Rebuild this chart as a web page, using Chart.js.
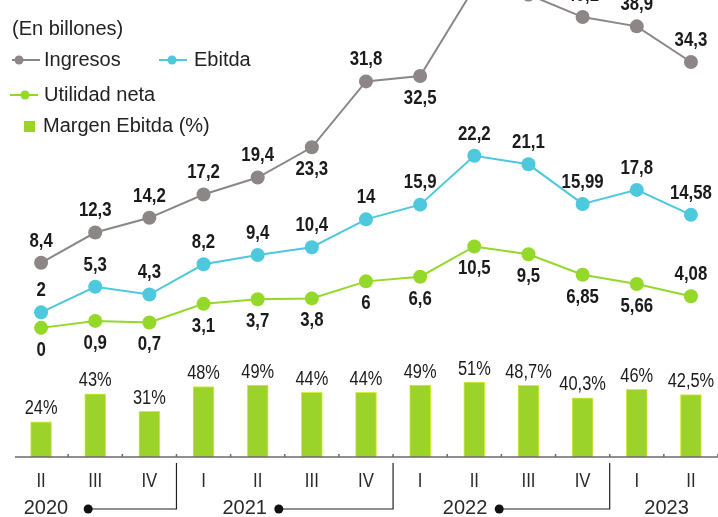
<html>
  <head>
    <style>
      body { margin: 0; background: #ffffff; }
    </style>
  </head>
  <body>
    <canvas id="myChart" width="718" height="517"></canvas>

    <script src="https://cdn.jsdelivr.net/npm/chart.js"></script>

    <script>
      "use strict";

      // quarters from II-2020 to II-2023
      const quarters = ['II', 'III', 'IV', 'I', 'II', 'III', 'IV', 'I', 'II', 'III', 'IV', 'I', 'II'];
      const years = ['2020', '2021', '2022', '2023'];

      // billones de pesos
      const ingresos = [8.4, 12.3, 14.2, 17.2, 19.4, 23.3, 31.8, 32.5, 43.9, 43.0, 40.1, 38.9, 34.3];
      const ebitda = [2, 5.3, 4.3, 8.2, 9.4, 10.4, 14, 15.9, 22.2, 21.1, 15.99, 17.8, 14.58];
      const utilidad = [0, 0.9, 0.7, 3.1, 3.7, 3.8, 6, 6.6, 10.5, 9.5, 6.85, 5.66, 4.08];
      const margen = [24, 43, 31, 48, 49, 44, 44, 49, 51, 48.7, 40.3, 46, 42.5];

      // where each value label sits: 1 above the point, -1 below
      const ingresosSide = [1, 1, 1, 1, 1, -1, 1, -1, 1, 1, 1, 1, 1];
      const ebitdaSide = [1, 1, 1, 1, 1, 1, 1, 1, 1, 1, 1, 1, 1];
      const utilidadSide = [-1, -1, -1, -1, -1, -1, -1, -1, -1, -1, -1, -1, 1];

      // year captions: right edge of text and bracket dot (in category units)
      const yearTextEnd = [0.5, 4.17, 8.24, 11.96];
      const yearDotAt = [0.87, 4.39, 8.46, null];
      const yearEndAfter = [2, 6, 10, null];

      const GRAY = '#8d8686';
      const CYAN = '#4dc8dc';
      const LIME = '#94d829';
      const BAR = '#9bd32b';
      const INK = '#1b1b1b';

      function fmt(v) { return String(v).replace('.', ','); }

      function narrowText(ctx, text, x, y, sx, align) {
          ctx.save();
          ctx.translate(x, y);
          ctx.scale(sx, 1);
          ctx.textAlign = align || 'center';
          ctx.fillText(text, 0, 0);
          ctx.restore();
      }

      const decor = {
          id: 'decor',
          afterDatasetsDraw(chart) {
              const ctx = chart.ctx;
              const xs = chart.scales.x;
              const ys = chart.scales.y;
              const yb = chart.scales.yBar;
              const px = i => xs.getPixelForValue(i);
              const step = px(1) - px(0);
              const base = yb.getPixelForValue(0);

              ctx.save();

              // base line with small ticks between quarters
              ctx.strokeStyle = '#6f6a6a';
              ctx.lineWidth = 1.5;
              ctx.beginPath();
              ctx.moveTo(15, base);
              ctx.lineTo(718, base);
              for (let i = 0; i < quarters.length; i++) {
                  const bx = px(i) + step / 2;
                  ctx.moveTo(bx, base);
                  ctx.lineTo(bx, base - 3);
              }
              ctx.stroke();

              // quarter labels
              ctx.fillStyle = '#2a2a2a';
              ctx.font = '21px "Liberation Sans", Arial, sans-serif';
              ctx.textBaseline = 'middle';
              quarters.forEach((q, i) => narrowText(ctx, q, px(i), 481, 0.8));

              // years with brackets
              ctx.font = '20px "Liberation Sans", Arial, sans-serif';
              ctx.strokeStyle = '#222';
              ctx.lineWidth = 1.2;
              years.forEach((y, k) => {
                  ctx.textAlign = 'right';
                  ctx.fillText(y, px(0) + yearTextEnd[k] * step, 508);
                  if (yearDotAt[k] !== null) {
                      const dx = px(0) + yearDotAt[k] * step;
                      const ex = px(yearEndAfter[k]) + step / 2;
                      ctx.beginPath();
                      ctx.moveTo(dx, 509);
                      ctx.lineTo(ex, 509);
                      ctx.lineTo(ex, 463);
                      ctx.stroke();
                      ctx.beginPath();
                      ctx.arc(dx, 509, 4.5, 0, Math.PI * 2);
                      ctx.fillStyle = '#111';
                      ctx.fill();
                      ctx.fillStyle = '#2a2a2a';
                  }
              });

              // bar labels
              ctx.fillStyle = INK;
              ctx.font = '20px "Liberation Sans", Arial, sans-serif';
              margen.forEach((v, i) => {
                  narrowText(ctx, fmt(v) + '%', px(i), yb.getPixelForValue(v) - 13, 0.82);
              });

              // line labels
              ctx.font = 'bold 21px "Liberation Sans", Arial, sans-serif';
              const series = [[ingresos, ingresosSide], [ebitda, ebitdaSide], [utilidad, utilidadSide]];
              series.forEach(([vals, side]) => {
                  vals.forEach((v, i) => {
                      const y = ys.getPixelForValue(v) - side[i] * 22;
                      narrowText(ctx, fmt(v), px(i), y, 0.8);
                  });
              });

              // legend
              ctx.fillStyle = '#222';
              ctx.font = '20px "Liberation Sans", Arial, sans-serif';
              ctx.textAlign = 'left';
              ctx.fillText('(En billones)', 12, 29);
              ctx.fillText('Ingresos', 44, 60);
              ctx.fillText('Ebitda', 194, 60);
              ctx.fillText('Utilidad neta', 44, 95);
              ctx.fillText('Margen Ebitda (%)', 43, 126);

              function mark(x1, x2, y, dot, color) {
                  ctx.strokeStyle = color;
                  ctx.fillStyle = color;
                  ctx.lineWidth = 2;
                  ctx.beginPath();
                  ctx.moveTo(x1, y);
                  ctx.lineTo(x2, y);
                  ctx.stroke();
                  ctx.beginPath();
                  ctx.arc(dot, y, 4.5, 0, Math.PI * 2);
                  ctx.fill();
              }
              mark(12, 40, 60, 19, GRAY);
              mark(159, 187, 60, 172, CYAN);
              mark(10, 38, 95, 25, LIME);
              ctx.fillStyle = BAR;
              ctx.fillRect(24, 121, 11, 11);

              ctx.restore();
          }
      };

      const ctx = document.getElementById('myChart').getContext('2d');

      const chart = new Chart(ctx, {
          type: 'bar',
          data: {
              labels: quarters,
              datasets: [{
                  type: 'line',
                  label: 'Ingresos',
                  data: ingresos,
                  yAxisID: 'y',
                  borderColor: GRAY,
                  backgroundColor: GRAY,
                  borderWidth: 2,
                  pointRadius: 7,
                  pointBorderWidth: 0,
                  tension: 0
              }, {
                  type: 'line',
                  label: 'Ebitda',
                  data: ebitda,
                  yAxisID: 'y',
                  borderColor: CYAN,
                  backgroundColor: CYAN,
                  borderWidth: 2,
                  pointRadius: 7,
                  pointBorderWidth: 0,
                  tension: 0
              }, {
                  type: 'line',
                  label: 'Utilidad neta',
                  data: utilidad,
                  yAxisID: 'y',
                  borderColor: LIME,
                  backgroundColor: LIME,
                  borderWidth: 2,
                  pointRadius: 7,
                  pointBorderWidth: 0,
                  tension: 0
              }, {
                  type: 'bar',
                  label: 'Margen Ebitda (%)',
                  data: margen,
                  yAxisID: 'yBar',
                  backgroundColor: BAR,
                  borderColor: '#dbea3c',
                  borderWidth: 1,
                  barThickness: 21
              }]
          },
          options: {
              responsive: false,
              animation: false,
              layout: { autoPadding: false, padding: { left: 14, right: 0, top: 0, bottom: 0 } },
              scales: {
                  x: { display: false, offset: true },
                  y: { display: false, min: -24.4, max: 42.3 },
                  yBar: { display: false, min: -40.8, max: 310.9 }
              },
              plugins: {
                  legend: { display: false },
                  tooltip: { enabled: false }
              }
          },
          plugins: [decor]
      });
    </script>
  </body>
</html>
